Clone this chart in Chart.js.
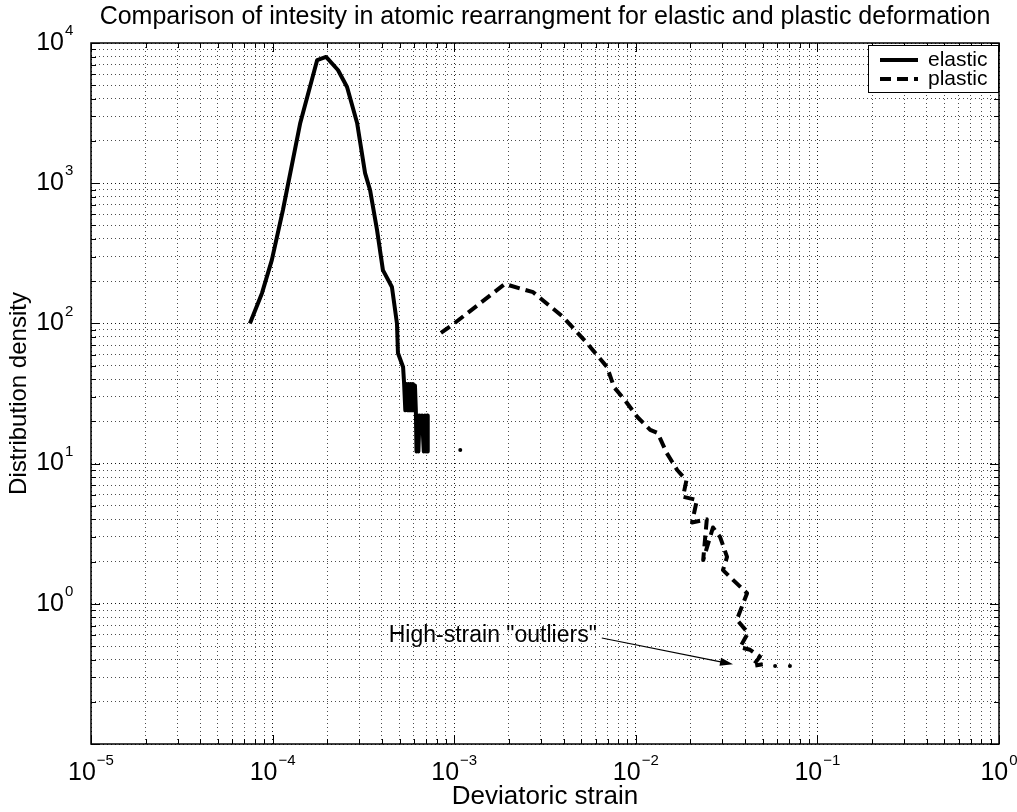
<!DOCTYPE html>
<html>
<head>
<meta charset="utf-8">
<script src="https://cdn.jsdelivr.net/npm/chart.js@4.4.1/dist/chart.umd.min.js"></script>
<style>
  html, body { margin: 0; padding: 0; background: #fff; }
</style>
</head>
<body>
<canvas id="grafico" width="1017" height="812"></canvas>
<script>
// deformacao elastica (linha continua)
const elasticStrain = [7.5e-5, 8.75e-5, 9.9e-5, 1.14e-4, 1.42e-4, 1.76e-4, 1.97e-4, 2.29e-4, 2.57e-4, 2.92e-4,
  3.23e-4, 3.44e-4, 3.76e-4, 4.05e-4, 4.54e-4, 4.84e-4, 4.9e-4, 5.23e-4, 5.3e-4, 5.38e-4,
  5.45e-4, 5.52e-4, 5.6e-4, 5.68e-4, 5.76e-4, 5.84e-4, 5.92e-4, 6.0e-4, 6.08e-4, 6.15e-4,
  6.2e-4, 6.3e-4, 6.35e-4, 6.45e-4, 6.55e-4, 6.65e-4, 6.8e-4, 6.9e-4, 7.0e-4, 7.1e-4,
  7.15e-4];
const elasticDensity = [100, 165, 283, 644, 2690, 7560, 7950, 6420, 4850, 2690,
  1180, 895, 463, 240, 182, 100, 61.5, 48.9, 37, 24,
  37, 24, 37, 24, 37, 24, 37, 24, 36, 24,
  12.2, 22, 12.2, 22, 17, 22, 12.2, 22, 12.2, 22,
  12.2];
const elasticStrayStrain = [1.08e-3];
const elasticStrayDensity = [12.5];

// deformacao plastica (tracejada)
const plasticStrain = [8.45e-4, 1.0e-3, 1.9e-3, 2.72e-3, 3.98e-3, 5.38e-3, 6.94e-3, 7.6e-3, 8.7e-3, 1.02e-2,
  1.2e-2, 1.32e-2, 1.48e-2, 1.69e-2, 1.9e-2, 1.82e-2, 2.17e-2, 2.04e-2, 2.46e-2, 2.35e-2,
  2.66e-2, 2.91e-2, 3.18e-2, 3.02e-2, 3.43e-2, 4.1e-2, 3.6e-2, 4.15e-2, 3.75e-2, 4.26e-2,
  4.83e-2, 4.4e-2, 5.0e-2];
const plasticDensity = [85.5, 100, 191, 167, 111, 72.4, 48.9, 35, 28.4, 21.5,
  17.4, 16.5, 11.9, 9.0, 7.6, 5.8, 5.5, 3.8, 4.0, 2.05,
  3.5, 3.0, 2.16, 1.74, 1.48, 1.19, 0.77, 0.62, 0.49, 0.47,
  0.42, 0.36, 0.37];
const plasticStrayStrain = [5.85e-2, 7.06e-2];
const plasticStrayDensity = [0.36, 0.36];

// expoentes das decadas nos eixos
const xDecades = [-5, -4, -3, -2, -1, 0];
const yDecades = [-1, 0, 1, 2, 3, 4];
const yLabelDecades = [0, 1, 2, 3, 4];

// anotacao com seta
const outlierText = 'High-strain "outliers"';
const outlierTextAt = [6.1e-3, 0.59];
const arrowFrom = [6.5e-3, 0.57];
const arrowTo = [3.43e-2, 0.37];

const fonte = '"Liberation Sans", Arial, Helvetica, sans-serif';

function pares(xs, ys) {
  return xs.map((v, i) => ({ x: v, y: ys[i] }));
}

// marcas em 1..9 x 10^n dentro de cada decada
function marcasLog(decadas) {
  const lista = [];
  for (let i = 0; i < decadas.length - 1; i++) {
    for (let m = 1; m < 10; m++) {
      lista.push({ value: m * Math.pow(10, decadas[i]), major: m === 1 });
    }
  }
  lista.push({ value: Math.pow(10, decadas[decadas.length - 1]), major: true });
  return lista;
}

function corGrade(c) {
  return c.tick && c.tick.major ? 'rgba(0,0,0,0.9)' : 'rgba(0,0,0,0.7)';
}

function potencia(ctx, exp, x, y, modo) {
  const base = '10';
  const sup = exp < 0 ? '\u2212' + (-exp) : String(exp);
  ctx.font = '25px ' + fonte;
  const wb = ctx.measureText(base).width;
  ctx.font = '15px ' + fonte;
  const ws = ctx.measureText(sup).width;
  let x0;
  if (modo === 'direita') {
    x0 = x - wb;
  } else {
    x0 = x - (wb + 1 + ws) / 2;
  }
  ctx.textBaseline = 'middle';
  ctx.textAlign = 'left';
  ctx.font = '25px ' + fonte;
  ctx.fillText(base, x0, y);
  ctx.font = '15px ' + fonte;
  ctx.fillText(sup, x0 + wb + 1, y - 12);
}

const moldura = {
  id: 'moldura',
  afterDraw(chart) {
    const { ctx, chartArea: a, scales: { x, y } } = chart;
    ctx.save();
    ctx.strokeStyle = '#000';
    ctx.fillStyle = '#000';

    // marcas internas nos quatro lados
    ctx.lineWidth = 1;
    ctx.beginPath();
    x.ticks.forEach(t => {
      const px = Math.round(x.getPixelForValue(t.value)) + 0.5;
      const len = t.major ? 9 : 5;
      ctx.moveTo(px, a.bottom); ctx.lineTo(px, a.bottom - len);
      ctx.moveTo(px, a.top); ctx.lineTo(px, a.top + len);
    });
    y.ticks.forEach(t => {
      const py = Math.round(y.getPixelForValue(t.value)) + 0.5;
      const len = t.major ? 9 : 5;
      ctx.moveTo(a.left, py); ctx.lineTo(a.left + len, py);
      ctx.moveTo(a.right, py); ctx.lineTo(a.right - len, py);
    });
    ctx.stroke();

    ctx.lineWidth = 1.5;
    ctx.strokeRect(a.left, a.top, a.right - a.left, a.bottom - a.top);

    // rotulos 10^n
    xDecades.forEach(e => {
      potencia(ctx, e, x.getPixelForValue(Math.pow(10, e)), a.bottom + 29, 'centro');
    });
    yLabelDecades.forEach(e => {
      potencia(ctx, e, a.left - 27, y.getPixelForValue(Math.pow(10, e)), 'direita');
    });

    // anotacao
    ctx.font = '23px ' + fonte;
    ctx.textAlign = 'right';
    ctx.textBaseline = 'middle';
    ctx.fillText(outlierText, x.getPixelForValue(outlierTextAt[0]), y.getPixelForValue(outlierTextAt[1]));
    const x1 = x.getPixelForValue(arrowFrom[0]), y1 = y.getPixelForValue(arrowFrom[1]);
    const x2 = x.getPixelForValue(arrowTo[0]), y2 = y.getPixelForValue(arrowTo[1]);
    const ang = Math.atan2(y2 - y1, x2 - x1);
    ctx.lineWidth = 1.2;
    ctx.beginPath();
    ctx.moveTo(x1, y1);
    ctx.lineTo(x2 - 10 * Math.cos(ang), y2 - 10 * Math.sin(ang));
    ctx.stroke();
    ctx.beginPath();
    ctx.moveTo(x2, y2);
    ctx.lineTo(x2 - 13 * Math.cos(ang) + 4 * Math.sin(ang), y2 - 13 * Math.sin(ang) - 4 * Math.cos(ang));
    ctx.lineTo(x2 - 13 * Math.cos(ang) - 4 * Math.sin(ang), y2 - 13 * Math.sin(ang) + 4 * Math.cos(ang));
    ctx.closePath();
    ctx.fill();

    // legenda
    const lw = 130, lh = 47;
    const lx = a.right - lw - 1, ly = a.top + 2;
    ctx.fillStyle = '#fff';
    ctx.fillRect(lx, ly, lw, lh);
    ctx.lineWidth = 1;
    ctx.strokeRect(lx + 0.5, ly + 0.5, lw, lh);
    ctx.fillStyle = '#000';
    ctx.font = '21px ' + fonte;
    ctx.textAlign = 'left';
    chart.data.datasets.slice(0, 2).forEach((ds, i) => {
      const cy = ly + 15 + i * 19;
      ctx.lineWidth = ds.borderWidth;
      ctx.setLineDash(ds.borderDash || []);
      ctx.beginPath();
      ctx.moveTo(lx + 12, cy);
      ctx.lineTo(lx + 50, cy);
      ctx.stroke();
      ctx.setLineDash([]);
      ctx.fillText(ds.label, lx + 60, cy);
    });
    ctx.restore();
  }
};

const chart = new Chart(document.getElementById('grafico'), {
  type: 'scatter',
  data: {
    datasets: [
      {
        label: 'elastic',
        data: pares(elasticStrain, elasticDensity),
        showLine: true,
        borderColor: '#000',
        borderWidth: 4,
        borderJoinStyle: 'round',
        pointRadius: 0,
        tension: 0
      },
      {
        label: 'plastic',
        data: pares(plasticStrain, plasticDensity),
        showLine: true,
        borderColor: '#000',
        borderWidth: 4,
        borderDash: [11, 6],
        borderJoinStyle: 'round',
        pointRadius: 0,
        tension: 0
      },
      {
        label: 'stray',
        data: pares(elasticStrayStrain.concat(plasticStrayStrain), elasticStrayDensity.concat(plasticStrayDensity)),
        showLine: false,
        pointRadius: 2,
        borderWidth: 0,
        backgroundColor: '#000'
      }
    ]
  },
  options: {
    responsive: false,
    animation: false,
    devicePixelRatio: 1,
    layout: { padding: { left: 0, right: 18, top: 0, bottom: 0 } },
    plugins: {
      legend: { display: false },
      tooltip: { enabled: false },
      title: {
        display: true,
        fullSize: false,
        text: 'Comparison of intesity in atomic rearrangment for elastic and plastic deformation',
        color: '#000',
        font: { family: fonte, size: 25, weight: 'normal' },
        padding: { top: 2, bottom: 11 }
      }
    },
    scales: {
      x: {
        type: 'logarithmic',
        min: 1e-5,
        max: 1,
        afterBuildTicks: s => { s.ticks = marcasLog(xDecades); },
        afterFit: s => { s.height = 68; },
        ticks: { display: false },
        grid: { color: corGrade, lineWidth: 1, drawTicks: false },
        border: { display: false, dash: [1, 3] },
        title: {
          display: true,
          text: 'Deviatoric strain',
          color: '#000',
          font: { family: fonte, size: 26 },
          padding: { top: 0, bottom: 0 }
        }
      },
      y: {
        type: 'logarithmic',
        min: 0.1,
        max: 1e4,
        afterBuildTicks: s => { s.ticks = marcasLog(yDecades); },
        afterFit: s => { s.width = 91; },
        ticks: { display: false },
        grid: { color: corGrade, lineWidth: 1, drawTicks: false },
        border: { display: false, dash: [1, 3] },
        title: {
          display: true,
          text: 'Distribution density',
          color: '#000',
          font: { family: fonte, size: 24 },
          padding: { top: 5, bottom: 0 }
        }
      }
    }
  },
  plugins: [moldura]
});
</script>
</body>
</html>
